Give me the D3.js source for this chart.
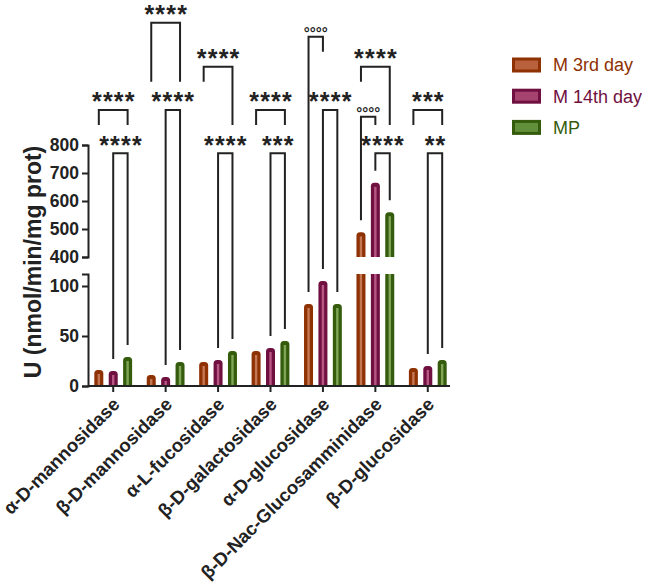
<!DOCTYPE html>
<html>
<head>
<meta charset="utf-8">
<script src="https://cdn.jsdelivr.net/npm/d3@7"></script>
<style>
  body { margin: 0; background: #fff; }
  text { font-family: Arial, "Liberation Sans", sans-serif; }
</style>
</head>
<body>
<div id="wrapper"></div>
<script>
// Data
const categories = ["α-D-mannosidase", "β-D-mannosidase", "α-L-fucosidase", "β-D-galactosidase",
  "α-D-glucosidase", "β-D-Nac-Glucosamminidase", "β-D-glucosidase"]
const seriesNames = ["M 3rd day", "M 14th day", "MP"]
const m3Values = [16, 11, 24, 35, 82, 488, 18]
const m14Values = [15, 9, 26, 38, 105, 665, 20]
const mpValues = [29, 24, 35, 45, 82, 560, 26]
const lowTicks = [0, 50, 100]
const highTicks = [400, 500, 600, 700, 800]

// significance brackets: group, from series, to series, label, tier, leg ends ("bar" or tier index)
const brackets = [
  { group: 0, a: 0, b: 2, label: "****", tier: 3, legs: [3, 3] },
  { group: 0, a: 1, b: 2, label: "****", tier: 5, legs: ["bar", "bar"] },
  { group: 1, a: 0, b: 2, label: "****", tier: 0, legs: [2, 2] },
  { group: 1, a: 1, b: 2, label: "****", tier: 3, legs: ["bar", "bar"] },
  { group: 2, a: 0, b: 2, label: "****", tier: 2, legs: [2, 3] },
  { group: 2, a: 1, b: 2, label: "****", tier: 5, legs: ["bar", "bar"] },
  { group: 3, a: 0, b: 2, label: "****", tier: 3, legs: [3, 3] },
  { group: 3, a: 1, b: 2, label: "***", tier: 5, legs: ["bar", "bar"] },
  { group: 4, a: 0, b: 1, label: "°°°°", tier: 1, legs: ["bar", 1] },
  { group: 4, a: 1, b: 2, label: "****", tier: 3, legs: ["bar", "bar"] },
  { group: 5, a: 0, b: 2, label: "****", tier: 2, legs: [2, 3] },
  { group: 5, a: 0, b: 1, label: "°°°°", tier: 4, legs: ["bar", 3] },
  { group: 5, a: 1, b: 2, label: "****", tier: 5, legs: ["bar", "bar"] },
  { group: 6, a: 0, b: 2, label: "***", tier: 3, legs: [3, 3] },
  { group: 6, a: 1, b: 2, label: "**", tier: 5, legs: ["bar", "bar"] },
]

const allValues = [m3Values, m14Values, mpValues]
const dataset = []
categories.forEach((c, i) => {
  seriesNames.forEach((s, j) => dataset.push({ category: c, series: s, value: allValues[j][i] }))
})

// Styles
const darkColors = ["#8e3103", "#701040", "#355c0c"]
const lightColors = ["#cf8463", "#c4648f", "#8db264"]
const swatchColors = ["#b9603d", "#a6436f", "#62903a"]
const inkColor = "#222"

// Dimensions
const dimensions = { width: 649, height: 588 }
const tierY = [22.7, 36.7, 66.7, 110, 116.7, 153.3]

const wrapper = d3.select("#wrapper")
  .append("svg")
  .attr("width", dimensions.width)
  .attr("height", dimensions.height)

// Scales
const xScale = d3.scaleBand()
  .domain(categories)
  .range([87, 454])
  .padding(0)
const xSub = d3.scalePoint()
  .domain(seriesNames)
  .range([-14.4, 14.4])
const yLow = d3.scaleLinear().domain([0, 112]).range([386, 274])
const yHigh = d3.scaleLinear().domain([400, 800]).range([257, 145])
const colorDark = d3.scaleOrdinal().domain(seriesNames).range(darkColors)
const colorLight = d3.scaleOrdinal().domain(seriesNames).range(lightColors)

const barWidth = 9
const barCenter = d => xScale(d.category) + xScale.bandwidth() / 2 + xSub(d.series)
const barTop = v => v > yLow.domain()[1] ? yHigh(v) : yLow(v)

function barPath(cx, yBottom, yTop, rounded) {
  const x0 = cx - barWidth / 2, x1 = cx + barWidth / 2
  const r = rounded ? 3.5 : 0
  return `M${x0},${yBottom}L${x0},${yTop + r}` +
    (r ? `Q${x0},${yTop} ${x0 + r},${yTop}L${x1 - r},${yTop}Q${x1},${yTop} ${x1},${yTop + r}` : `L${x1},${yTop}`) +
    `L${x1},${yBottom}Z`
}

// Bars (lower segment, and upper segment for broken bars)
const segments = []
dataset.forEach(d => {
  const lowMax = yLow.domain()[1]
  if (d.value <= lowMax) {
    segments.push({ d, y0: yLow(0), y1: yLow(d.value), rounded: true })
  } else {
    segments.push({ d, y0: yLow(0), y1: yLow(lowMax), rounded: false })
    segments.push({ d, y0: yHigh(400), y1: yHigh(d.value), rounded: true })
  }
})

const bars = wrapper.append("g")
bars.selectAll("path")
  .data(segments)
  .join("path")
    .attr("d", s => barPath(barCenter(s.d), s.y0, s.y1, s.rounded))
    .attr("fill", s => colorDark(s.d.series))
bars.selectAll("rect")
  .data(segments)
  .join("rect")
    .attr("x", s => barCenter(s.d) - 1.2)
    .attr("y", s => s.y1 + (s.rounded ? 4 : 0))
    .attr("width", 2.4)
    .attr("height", s => Math.max(0, s.y0 - s.y1 - (s.rounded ? 4 : 0)))
    .attr("fill", s => colorLight(s.d.series))
    .attr("opacity", 0.85)

// Axes
const yLowAxis = wrapper.append("g")
  .attr("transform", "translate(88, 0)")
  .call(d3.axisLeft(yLow).tickValues(lowTicks).tickSize(6).tickPadding(3))
const yHighAxis = wrapper.append("g")
  .attr("transform", "translate(88, 0)")
  .call(d3.axisLeft(yHigh).tickValues(highTicks).tickSize(6).tickPadding(3))

const xAxis = wrapper.append("g")
  .attr("transform", `translate(0, ${yLow(0)})`)
  .call(d3.axisBottom(xScale).tickSize(6).tickSizeOuter(0).tickFormat(""))

;[yLowAxis, yHighAxis, xAxis].forEach(ax => {
  ax.selectAll("path, line").attr("stroke", inkColor).attr("stroke-width", 2)
  ax.selectAll("text")
    .attr("fill", inkColor)
    .style("font-size", "17.5px")
    .style("font-weight", "bold")
})
xAxis.select(".domain").attr("d", `M88,0H450`)

// Rotated category labels
wrapper.append("g")
  .selectAll("text")
  .data(categories)
  .join("text")
    .attr("transform", d => `translate(${xScale(d) + xScale.bandwidth() / 2 + 3}, 401) rotate(-45)`)
    .attr("text-anchor", "end")
    .attr("dy", "0.35em")
    .attr("fill", inkColor)
    .style("font-size", "18.5px")
    .style("font-weight", "bold")
    .text(d => d)

// Y label
wrapper.append("text")
  .attr("transform", "translate(33, 262) rotate(-90)")
  .attr("text-anchor", "middle")
  .attr("dy", "0.35em")
  .attr("fill", inkColor)
  .style("font-size", "23px")
  .style("font-weight", "bold")
  .text("U (nmol/min/mg prot)")

// Significance brackets
const seriesX = (g, s) => xScale(categories[g]) + xScale.bandwidth() / 2 + xSub(seriesNames[s])
const legEnd = (b, k) => {
  const leg = b.legs[k]
  const s = k === 0 ? b.a : b.b
  if (leg === "bar") return barTop(allValues[s][b.group]) - 12
  return tierY[leg] + 15
}

const sig = wrapper.append("g")
sig.selectAll("path")
  .data(brackets)
  .join("path")
    .attr("d", b => {
      const xa = seriesX(b.group, b.a), xb = seriesX(b.group, b.b), y = tierY[b.tier]
      return `M${xa},${legEnd(b, 0)}V${y}H${xb}V${legEnd(b, 1)}`
    })
    .attr("fill", "none")
    .attr("stroke", inkColor)
    .attr("stroke-width", 2)
const isStars = b => b.label.startsWith("*")
sig.selectAll("text")
  .data(brackets)
  .join("text")
    .attr("x", b => (seriesX(b.group, b.a) + seriesX(b.group, b.b)) / 2 + (isStars(b) ? 0.6 : 0))
    .attr("y", b => tierY[b.tier] + (isStars(b) ? 0.4 : 1.5))
    .attr("text-anchor", "middle")
    .attr("fill", inkColor)
    .style("font-size", b => isStars(b) ? "25px" : "15px")
    .style("letter-spacing", b => isStars(b) ? "1.2px" : "0px")
    .style("font-weight", "bold")
    .text(b => b.label)

// Legend
const legend = wrapper.append("g")
  .selectAll("g")
  .data(seriesNames)
  .join("g")
    .attr("transform", (d, i) => `translate(512, ${65 + i * 31.2})`)
legend.append("rect")
  .attr("x", 1.5)
  .attr("y", -6)
  .attr("width", 26)
  .attr("height", 12)
  .attr("fill", (d, i) => swatchColors[i])
  .attr("stroke", d => colorDark(d))
  .attr("stroke-width", 3)
legend.append("text")
  .attr("x", 41)
  .attr("dy", "0.35em")
  .attr("fill", d => colorDark(d))
  .style("font-size", "18px")
  .text(d => d)
</script>
</body>
</html>
